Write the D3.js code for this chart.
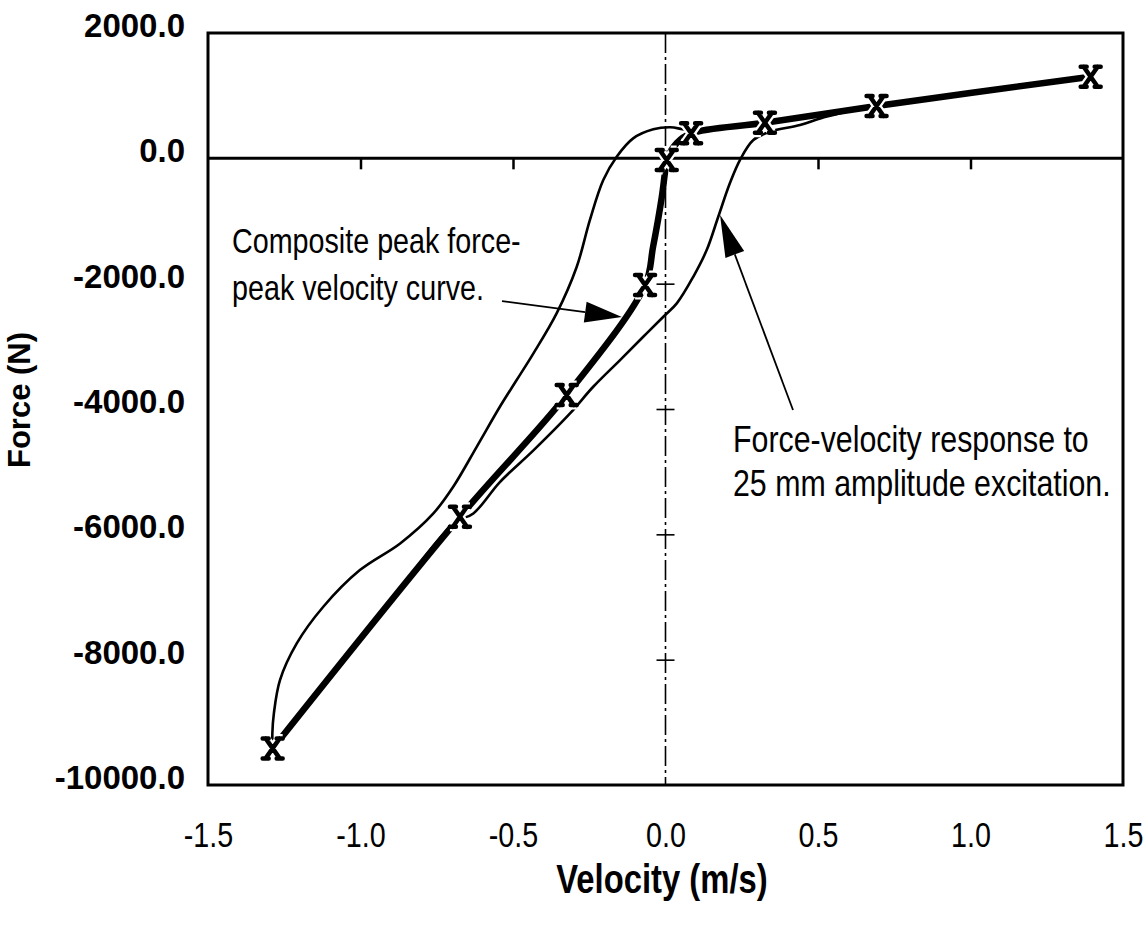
<!DOCTYPE html>
<html>
<head>
<meta charset="utf-8">
<script src="https://cdn.jsdelivr.net/npm/d3@7"></script>
<style>
  body { margin: 0; background: #fff; }
  svg { display: block; }
</style>
</head>
<body>
<svg id="chart" width="1143" height="928"></svg>
<script>
// ---- data ----
var velocityTicks = [-1.5, -1.0, -0.5, 0.0, 0.5, 1.0, 1.5];
var forceTicks = [2000, 0, -2000, -4000, -6000, -8000, -10000];

// composite peak force - peak velocity points (the X markers)
var markerVelocity = [-1.288, -0.674, -0.324, -0.067, 0.004, 0.084, 0.326, 0.692, 1.394];
var markerForce    = [-9416, -5720, -3778, -2022, -27, 399, 568, 835, 1302];

// composite curve as drawn (markers plus the bend between them)
var compositeVelocity = [-1.288, -0.674, -0.324, -0.067, -0.041, -0.012, -0.002, 0.004, 0.037, 0.084, 0.326, 0.692, 1.394];
var compositeForce    = [-9416, -5720, -3778, -2022, -1419, -613, -235, -27, 244, 399, 568, 835, 1302];

// force-velocity loop, 25 mm amplitude (starts at the lower tip)
var loopVelocity = [-1.288, -1.289, -1.284, -1.264, -1.209, -1.122, -1.002, -0.870, -0.761, -0.696, -0.619,
  -0.543, -0.488, -0.433, -0.357, -0.291, -0.248, -0.204, -0.160, -0.106, -0.040, 0.015, 0.080, 0.200,
  0.330, 0.500, 0.620, 0.510, 0.441, 0.343, 0.288, 0.244, 0.211, 0.173, 0.135, 0.091, 0.037, -0.007,
  -0.073, -0.149, -0.237, -0.313, -0.433, -0.543, -0.630, -0.690, -0.936, -1.288];
var loopForce = [-9416, -9174, -8858, -8326, -7741, -7156, -6571, -6145, -5666, -5241, -4603,
  -3964, -3538, -3112, -2474, -1730, -985, -346, 26, 319, 463, 495, 450, 495,
  575, 690, 780, 640, 531, 425, 292, -27, -399, -932, -1464, -1890, -2314, -2528,
  -2847, -3219, -3645, -4070, -4660, -5166, -5666, -5810, -7290, -9416];

var noteComposite = ['Composite peak force-', 'peak velocity curve.'];
var noteLoop = ['Force-velocity response to', '25 mm amplitude excitation.'];

// ---- layout ----
var svg = d3.select('#chart');
var plotL = 208, plotR = 1123, plotT = 33, plotB = 785;

var x = d3.scaleLinear().domain([-1.5, 1.5]).range([plotL, plotR]);
var y = d3.scaleLinear().domain([-10000, 2000]).range([plotB, plotT]);
var fmt = function (d) { return d.toFixed(1); };

// is a narrow face installed? if not, squeeze the regular one
function probeWidth(family) {
  var t = svg.append('text').style('font-size', '40px').style('font-family', family).text('Composite peak');
  var w = t.node().getComputedTextLength();
  t.remove();
  return w;
}
var hasNarrow = probeWidth('"Liberation Sans Narrow",monospace') !== probeWidth('monospace') ||
                probeWidth('"Arial Narrow",monospace') !== probeWidth('monospace');
var narrowFont = hasNarrow ? '"Liberation Sans Narrow","Arial Narrow",sans-serif' : '"Liberation Sans",Arial,sans-serif';
var squeeze = hasNarrow ? 1 : 0.82;

function narrowText(g, px, py, str, size, weight) {
  return g.append('text')
    .attr('transform', 'translate(' + px + ',' + py + ') scale(' + squeeze + ',1)')
    .style('font-family', narrowFont)
    .style('font-size', size + 'px')
    .style('font-weight', weight || 'normal')
    .text(str);
}

// frame
svg.append('rect')
  .attr('x', plotL).attr('y', plotT)
  .attr('width', plotR - plotL).attr('height', plotB - plotT)
  .attr('fill', 'none').attr('stroke', '#000').attr('stroke-width', 3);

// vertical dash-dot line at zero velocity
svg.append('line')
  .attr('x1', x(0)).attr('x2', x(0))
  .attr('y1', y(2000)).attr('y2', y(-10000))
  .attr('stroke', '#000').attr('stroke-width', 1.6)
  .attr('stroke-dasharray', '20,4,3,4');

// zero force line
svg.append('line')
  .attr('x1', x(-1.5)).attr('x2', x(1.5))
  .attr('y1', y(0)).attr('y2', y(0))
  .attr('stroke', '#000').attr('stroke-width', 3);

// ticks on the zero line
var xTicks = svg.append('g')
  .attr('transform', 'translate(0,' + y(0) + ')')
  .call(d3.axisBottom(x).tickValues([-1, -0.5, 0.5, 1]).tickSize(11).tickFormat(''));
xTicks.select('.domain').remove();
xTicks.selectAll('line').attr('stroke-width', 2.5);

// crosses on the zero velocity line
[d3.axisLeft, d3.axisRight].forEach(function (ax) {
  var g = svg.append('g')
    .attr('transform', 'translate(' + x(0) + ',0)')
    .call(ax(y).tickValues([-2000, -4000, -6000, -8000]).tickSize(9).tickFormat(''));
  g.select('.domain').remove();
  g.selectAll('line').attr('stroke-width', 1.6);
});

// x tick labels
var xAxis = svg.append('g')
  .attr('transform', 'translate(0,' + plotB + ')')
  .call(d3.axisBottom(x).tickValues(velocityTicks).tickSize(0).tickPadding(37).tickFormat(fmt));
xAxis.select('.domain').remove();
xAxis.selectAll('text')
  .style('font-family', narrowFont)
  .style('font-size', '35px')
  .attr('fill', '#000')
  .attr('transform', 'scale(' + squeeze + ',1)');

// y tick labels
var yAxis = svg.append('g')
  .attr('transform', 'translate(' + plotL + ',0)')
  .call(d3.axisLeft(y).tickValues(forceTicks).tickSize(0).tickPadding(23).tickFormat(fmt));
yAxis.select('.domain').remove();
yAxis.selectAll('text')
  .style('font-family', '"Liberation Sans",Arial,sans-serif')
  .style('font-size', '33px')
  .style('font-weight', 'bold')
  .attr('fill', '#000')
  .attr('y', -7);

// axis titles
svg.append('text')
  .attr('transform', 'translate(30,400) rotate(-90)')
  .attr('text-anchor', 'middle')
  .style('font-family', '"Liberation Sans",Arial,sans-serif')
  .style('font-size', '31px')
  .style('font-weight', 'bold')
  .text('Force (N)');

narrowText(svg, 662, 893, 'Velocity (m/s)', 40, 'bold').attr('text-anchor', 'middle');

// loop
var loopData = loopVelocity.map(function (v, i) { return [v, loopForce[i]]; });
var line = d3.line()
  .x(function (d) { return x(d[0]); })
  .y(function (d) { return y(d[1]); })
  .curve(d3.curveCatmullRom.alpha(0.5));

svg.append('path')
  .datum(loopData)
  .attr('d', line)
  .attr('fill', 'none').attr('stroke', '#000').attr('stroke-width', 2.6)
  .attr('stroke-linejoin', 'round');

// composite curve
var compData = compositeVelocity.map(function (v, i) { return [v, compositeForce[i]]; });
svg.append('path')
  .datum(compData)
  .attr('d', line)
  .attr('fill', 'none').attr('stroke', '#000').attr('stroke-width', 6.5)
  .attr('stroke-linejoin', 'round');

// X markers with a white halo
var markerPath = 'M-7,-10L7,10M7,-10L-7,10M-10,-10L-4,-10M4,-10L10,-10M-10,10L-4,10M4,10L10,10';
var markers = svg.append('g').selectAll('g')
  .data(markerVelocity.map(function (v, i) { return [v, markerForce[i]]; }))
  .enter().append('g')
  .attr('transform', function (d) { return 'translate(' + x(d[0]) + ',' + y(d[1]) + ')'; });
markers.append('path').attr('d', markerPath)
  .attr('stroke', '#fff').attr('stroke-width', 9).attr('fill', 'none');
markers.append('path').attr('d', markerPath)
  .attr('stroke', '#000').attr('stroke-width', 4.5).attr('fill', 'none').attr('stroke-linecap', 'round');

// annotations
function arrow(v0, f0, v1, f1, len, wid) {
  var x0 = x(v0), y0 = y(f0), x1 = x(v1), y1 = y(f1);
  var a = Math.atan2(y1 - y0, x1 - x0);
  var bx = x1 - len * Math.cos(a), by = y1 - len * Math.sin(a);
  svg.append('line')
    .attr('x1', x0).attr('y1', y0).attr('x2', bx).attr('y2', by)
    .attr('stroke', '#000').attr('stroke-width', 1.8);
  var nx = -Math.sin(a) * wid / 2, ny = Math.cos(a) * wid / 2;
  svg.append('path')
    .attr('d', 'M' + x1 + ',' + y1 + 'L' + (bx + nx) + ',' + (by + ny) + 'L' + (bx - nx) + ',' + (by - ny) + 'Z')
    .attr('fill', '#000');
}
arrow(-0.536, -2278, -0.143, -2533, 37, 21);
arrow(0.418, -4016, 0.179, -905, 42, 20);

noteComposite.forEach(function (s, i) { narrowText(svg, 232, 253 + i * 47, s, 35); });
noteLoop.forEach(function (s, i) { narrowText(svg, 733, 452 + i * 44, s, 37); });
</script>
</body>
</html>
